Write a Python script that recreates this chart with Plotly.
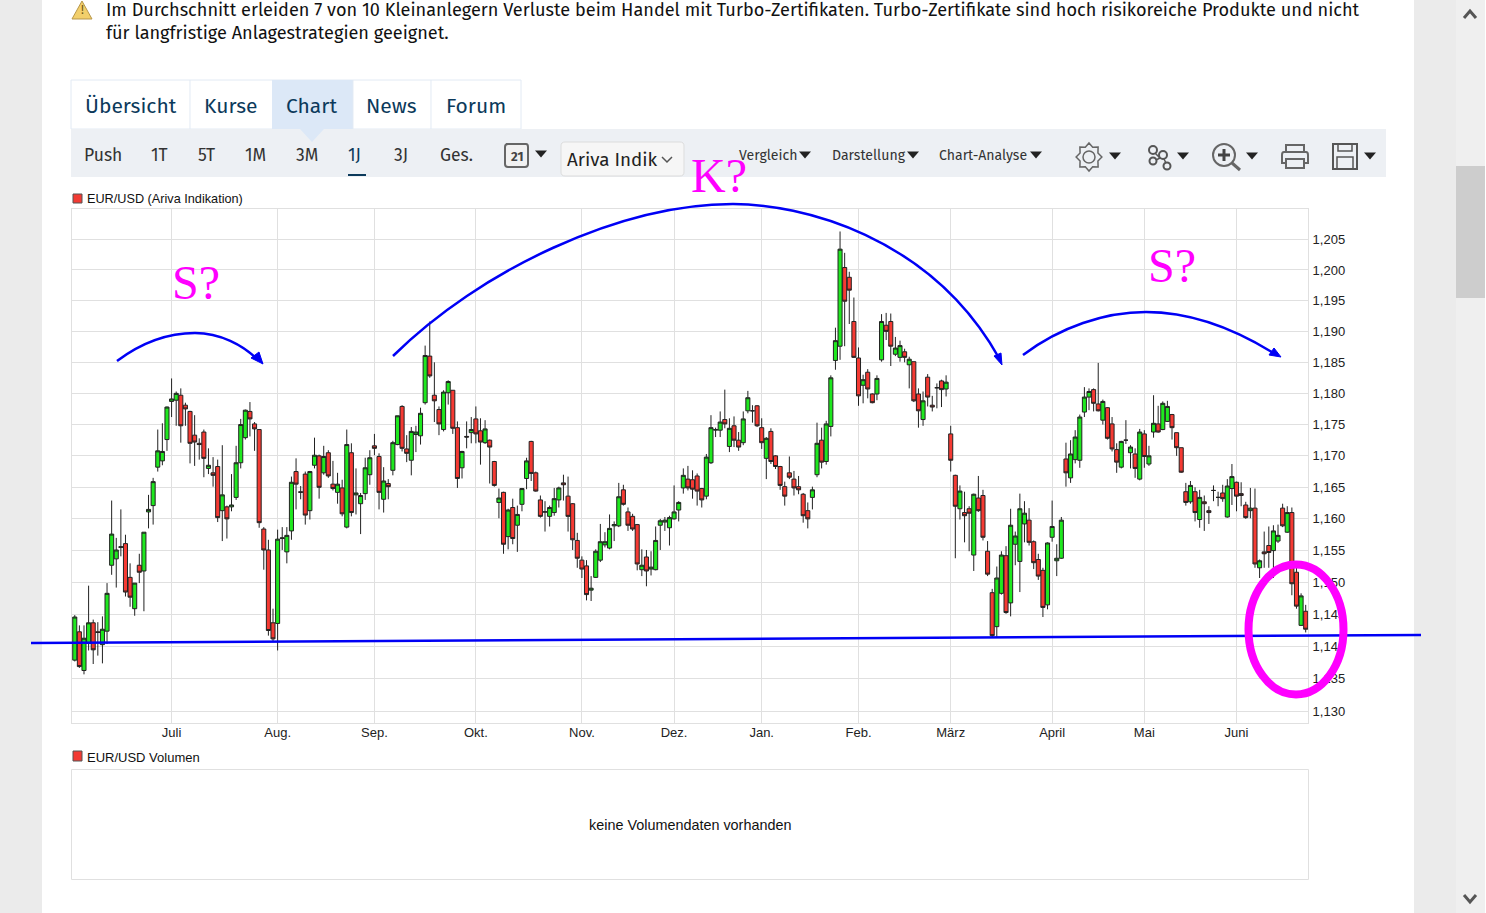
import math
import plotly.graph_objects as go

# Page size of the screenshot, everything outside the chart is placed in pixels
W = 1486
H = 913

highs = [
    1.1449, 1.1433, 1.1433, 1.1495, 1.1442, 1.1438, 1.1447, 1.1499, 1.1629, 1.1570,
    1.1615, 1.1575, 1.1530, 1.1499, 1.1545, 1.1579, 1.1638, 1.1665, 1.1742, 1.1752,
    1.1779, 1.1824, 1.1803, 1.1808, 1.1785, 1.1772, 1.1765, 1.1728, 1.1742, 1.1712,
    1.1698, 1.1694, 1.1717, 1.1621, 1.1671, 1.1716, 1.1759, 1.1774, 1.1786, 1.1754,
    1.1742, 1.1587, 1.1567, 1.1459, 1.1583, 1.1587, 1.1587, 1.1667, 1.1696, 1.1652,
    1.1675, 1.1676, 1.1729, 1.1702, 1.1716, 1.1709, 1.1692, 1.1673, 1.1662, 1.1742,
    1.1720, 1.1680, 1.1641, 1.1697, 1.1709, 1.1735, 1.1704, 1.1682, 1.1663, 1.1724,
    1.1764, 1.1781, 1.1733, 1.1746, 1.1748, 1.1777, 1.1877, 1.1916, 1.1850, 1.1779,
    1.1805, 1.1821, 1.1805, 1.1755, 1.1708, 1.1755, 1.1762, 1.1779, 1.1760, 1.1757,
    1.1726, 1.1692, 1.1648, 1.1643, 1.1616, 1.1632, 1.1621, 1.1649, 1.1697, 1.1724,
    1.1675, 1.1637, 1.1628, 1.1621, 1.1649, 1.1651, 1.1670, 1.1667, 1.1625, 1.1578,
    1.1541, 1.1535, 1.1510, 1.1552, 1.1592, 1.1579, 1.1607, 1.1596, 1.1657, 1.1654,
    1.1618, 1.1608, 1.1592, 1.1552, 1.1551, 1.1549, 1.1588, 1.1600, 1.1603, 1.1605,
    1.1653, 1.1628, 1.1680, 1.1684, 1.1677, 1.1672, 1.1649, 1.1703, 1.1765, 1.1745,
    1.1771, 1.1806, 1.1760, 1.1763, 1.1738, 1.1771, 1.1804, 1.1781, 1.1781, 1.1760,
    1.1730, 1.1744, 1.1701, 1.1684, 1.1659, 1.1699, 1.1676, 1.1668, 1.1641, 1.1626,
    1.1651, 1.1753, 1.1745, 1.1756, 1.1829, 1.1906, 1.2063, 1.2028, 1.1997, 1.1955,
    1.1874, 1.1830, 1.1839, 1.1800, 1.1829, 1.1928, 1.1930, 1.1929, 1.1891, 1.1885,
    1.1872, 1.1859, 1.1851, 1.1808, 1.1803, 1.1831, 1.1796, 1.1816, 1.1822, 1.1829,
    1.1748, 1.1670, 1.1653, 1.1643, 1.1620, 1.1640, 1.1668, 1.1646, 1.1565, 1.1490,
    1.1525, 1.1549, 1.1557, 1.1616, 1.1580, 1.1640, 1.1628, 1.1617, 1.1566, 1.1545,
    1.1523, 1.1563, 1.1629, 1.1560, 1.1603, 1.1721, 1.1725, 1.1741, 1.1766, 1.1810,
    1.1808, 1.1808, 1.1849, 1.1790, 1.1778, 1.1762, 1.1720, 1.1724, 1.1757, 1.1717,
    1.1712, 1.1743, 1.1741, 1.1716, 1.1797, 1.1780, 1.1787, 1.1788, 1.1767, 1.1737,
    1.1713, 1.1657, 1.1660, 1.1650, 1.1646, 1.1637, 1.1620, 1.1653, 1.1643, 1.1654,
    1.1663, 1.1687, 1.1659, 1.1658, 1.1627, 1.1649, 1.1648, 1.1536, 1.1580, 1.1588,
    1.1590, 1.1591, 1.1624, 1.1620, 1.1618, 1.1523, 1.1483, 1.1465,
]

opens = [
    1.1379, 1.1423, 1.1363, 1.1405, 1.1437, 1.1423, 1.1403, 1.1424, 1.1527, 1.1537,
    1.1555, 1.1561, 1.1508, 1.1459, 1.1527, 1.1518, 1.1611, 1.1621, 1.1682, 1.1692,
    1.1726, 1.1787, 1.1789, 1.1797, 1.1781, 1.1771, 1.1733, 1.1720, 1.1738, 1.1680,
    1.1673, 1.1683, 1.1613, 1.1619, 1.1619, 1.1634, 1.1689, 1.1729, 1.1771, 1.1751,
    1.1742, 1.1584, 1.1551, 1.1437, 1.1436, 1.1569, 1.1548, 1.1581, 1.1675, 1.1643,
    1.1671, 1.1613, 1.1685, 1.1700, 1.1673, 1.1705, 1.1655, 1.1642, 1.1649, 1.1587,
    1.1705, 1.1638, 1.1624, 1.1640, 1.1670, 1.1716, 1.1699, 1.1631, 1.1656, 1.1677,
    1.1718, 1.1779, 1.1711, 1.1693, 1.1734, 1.1732, 1.1785, 1.1860, 1.1797, 1.1774,
    1.1742, 1.1801, 1.1805, 1.1745, 1.1681, 1.1731, 1.1737, 1.1759, 1.1740, 1.1721,
    1.1725, 1.1691, 1.1626, 1.1642, 1.1572, 1.1618, 1.1590, 1.1623, 1.1664, 1.1723,
    1.1673, 1.1630, 1.1611, 1.1604, 1.1610, 1.1630, 1.1657, 1.1636, 1.1624, 1.1566,
    1.1535, 1.1526, 1.1488, 1.1508, 1.1535, 1.1559, 1.1554, 1.1589, 1.1589, 1.1646,
    1.1611, 1.1604, 1.1591, 1.1520, 1.1540, 1.1521, 1.1520, 1.1590, 1.1595, 1.1586,
    1.1600, 1.1614, 1.1649, 1.1663, 1.1662, 1.1668, 1.1648, 1.1636, 1.1689, 1.1741,
    1.1741, 1.1758, 1.1715, 1.1748, 1.1725, 1.1721, 1.1772, 1.1772, 1.1780, 1.1745,
    1.1696, 1.1739, 1.1700, 1.1683, 1.1651, 1.1673, 1.1663, 1.1651, 1.1639, 1.1613,
    1.1634, 1.1670, 1.1725, 1.1691, 1.1747, 1.1853, 1.1876, 1.2004, 1.1988, 1.1916,
    1.1857, 1.1813, 1.1834, 1.1799, 1.1799, 1.1854, 1.1910, 1.1916, 1.1863, 1.1858,
    1.1867, 1.1846, 1.1851, 1.1799, 1.1758, 1.1826, 1.1781, 1.1809, 1.1820, 1.1807,
    1.1735, 1.1669, 1.1616, 1.1610, 1.1616, 1.1543, 1.1633, 1.1637, 1.1549, 1.1484,
    1.1431, 1.1483, 1.1542, 1.1468, 1.1560, 1.1533, 1.1592, 1.1598, 1.1564, 1.1536,
    1.1519, 1.1465, 1.1571, 1.1534, 1.1538, 1.1695, 1.1665, 1.1694, 1.1693, 1.1770,
    1.1794, 1.1806, 1.1783, 1.1757, 1.1777, 1.1751, 1.1710, 1.1682, 1.1725, 1.1705,
    1.1703, 1.1663, 1.1735, 1.1687, 1.1738, 1.1751, 1.1742, 1.1755, 1.1766, 1.1737,
    1.1713, 1.1643, 1.1627, 1.1643, 1.1599, 1.1627, 1.1613, 1.1645, 1.1634, 1.1641,
    1.1603, 1.1648, 1.1658, 1.1640, 1.1622, 1.1613, 1.1617, 1.1523, 1.1548, 1.1558,
    1.1550, 1.1565, 1.1617, 1.1579, 1.1610, 1.1516, 1.1433, 1.1455,
]

closes = [
    1.1446, 1.1369, 1.1413, 1.1437, 1.1395, 1.1422, 1.1427, 1.1483, 1.1576, 1.1551,
    1.1556, 1.1485, 1.1477, 1.1499, 1.1516, 1.1579, 1.1615, 1.1659, 1.1708, 1.1707,
    1.1778, 1.1791, 1.1800, 1.1748, 1.1775, 1.1720, 1.1722, 1.1718, 1.1696, 1.1685,
    1.1669, 1.1602, 1.1638, 1.1600, 1.1622, 1.1689, 1.1750, 1.1773, 1.1759, 1.1743,
    1.1594, 1.1551, 1.1425, 1.1412, 1.1568, 1.1570, 1.1574, 1.1658, 1.1655, 1.1642,
    1.1606, 1.1675, 1.1701, 1.1650, 1.1699, 1.1668, 1.1648, 1.1655, 1.1608, 1.1718,
    1.1610, 1.1641, 1.1637, 1.1681, 1.1697, 1.1712, 1.1642, 1.1660, 1.1651, 1.1721,
    1.1764, 1.1712, 1.1704, 1.1739, 1.1738, 1.1768, 1.1861, 1.1828, 1.1788, 1.1751,
    1.1802, 1.1819, 1.1744, 1.1664, 1.1707, 1.1730, 1.1742, 1.1735, 1.1722, 1.1743,
    1.1714, 1.1653, 1.1633, 1.1560, 1.1614, 1.1569, 1.1607, 1.1648, 1.1692, 1.1672,
    1.1644, 1.1604, 1.1611, 1.1618, 1.1632, 1.1649, 1.1654, 1.1604, 1.1567, 1.1538,
    1.1521, 1.1481, 1.1491, 1.1549, 1.1564, 1.1564, 1.1585, 1.1591, 1.1635, 1.1623,
    1.1590, 1.1584, 1.1529, 1.1527, 1.1518, 1.1524, 1.1566, 1.1597, 1.1598, 1.1602,
    1.1611, 1.1626, 1.1669, 1.1649, 1.1647, 1.1644, 1.1630, 1.1698, 1.1745, 1.1742,
    1.1754, 1.1751, 1.1744, 1.1725, 1.1714, 1.1759, 1.1793, 1.1772, 1.1748, 1.1721,
    1.1728, 1.1691, 1.1683, 1.1653, 1.1636, 1.1666, 1.1649, 1.1646, 1.1605, 1.1600,
    1.1646, 1.1720, 1.1690, 1.1751, 1.1825, 1.1885, 1.2034, 1.1949, 1.1967, 1.1858,
    1.1796, 1.1822, 1.1807, 1.1785, 1.1824, 1.1916, 1.1900, 1.1876, 1.1873, 1.1877,
    1.1858, 1.1855, 1.1788, 1.1772, 1.1788, 1.1794, 1.1778, 1.1809, 1.1806, 1.1818,
    1.1693, 1.1620, 1.1644, 1.1605, 1.1609, 1.1639, 1.1613, 1.1571, 1.1513, 1.1417,
    1.1507, 1.1543, 1.1453, 1.1590, 1.1573, 1.1616, 1.1609, 1.1563, 1.1531, 1.1510,
    1.1461, 1.1562, 1.1588, 1.1538, 1.1598, 1.1673, 1.1703, 1.1730, 1.1762, 1.1794,
    1.1803, 1.1784, 1.1772, 1.1787, 1.1728, 1.1711, 1.1690, 1.1723, 1.1725, 1.1714,
    1.1680, 1.1738, 1.1699, 1.1700, 1.1752, 1.1738, 1.1784, 1.1779, 1.1745, 1.1713,
    1.1674, 1.1626, 1.1653, 1.1610, 1.1634, 1.1624, 1.1610, 1.1645, 1.1634, 1.1632,
    1.1652, 1.1667, 1.1636, 1.1637, 1.1602, 1.1617, 1.1529, 1.1534, 1.1545, 1.1547,
    1.1581, 1.1574, 1.1589, 1.1610, 1.1498, 1.1463, 1.1479, 1.1427,
]

lows = [
    1.1377, 1.1367, 1.1357, 1.1394, 1.1373, 1.1386, 1.1374, 1.1404, 1.1512, 1.1492,
    1.1541, 1.1478, 1.1462, 1.1448, 1.1499, 1.1455, 1.1585, 1.1591, 1.1675, 1.1685,
    1.1708, 1.1762, 1.1748, 1.1721, 1.1748, 1.1688, 1.1684, 1.1694, 1.1666, 1.1671,
    1.1651, 1.1595, 1.1565, 1.1569, 1.1612, 1.1630, 1.1680, 1.1726, 1.1731, 1.1708,
    1.1586, 1.1520, 1.1417, 1.1407, 1.1394, 1.1551, 1.1530, 1.1567, 1.1615, 1.1631,
    1.1591, 1.1599, 1.1680, 1.1632, 1.1670, 1.1665, 1.1645, 1.1624, 1.1604, 1.1585,
    1.1604, 1.1607, 1.1576, 1.1630, 1.1654, 1.1701, 1.1615, 1.1610, 1.1631, 1.1669,
    1.1717, 1.1707, 1.1690, 1.1669, 1.1706, 1.1718, 1.1782, 1.1825, 1.1754, 1.1733,
    1.1739, 1.1782, 1.1735, 1.1649, 1.1664, 1.1712, 1.1720, 1.1720, 1.1686, 1.1719,
    1.1656, 1.1651, 1.1601, 1.1545, 1.1552, 1.1560, 1.1548, 1.1612, 1.1647, 1.1660,
    1.1643, 1.1602, 1.1580, 1.1588, 1.1605, 1.1618, 1.1629, 1.1580, 1.1551, 1.1523,
    1.1507, 1.1472, 1.1471, 1.1507, 1.1532, 1.1555, 1.1552, 1.1565, 1.1587, 1.1621,
    1.1581, 1.1581, 1.1519, 1.1510, 1.1494, 1.1511, 1.1519, 1.1551, 1.1581, 1.1558,
    1.1599, 1.1596, 1.1640, 1.1645, 1.1632, 1.1621, 1.1618, 1.1631, 1.1687, 1.1730,
    1.1730, 1.1744, 1.1706, 1.1714, 1.1708, 1.1717, 1.1768, 1.1753, 1.1746, 1.1711,
    1.1663, 1.1687, 1.1679, 1.1646, 1.1621, 1.1663, 1.1637, 1.1639, 1.1594, 1.1585,
    1.1615, 1.1666, 1.1680, 1.1686, 1.1731, 1.1838, 1.1854, 1.1876, 1.1912, 1.1857,
    1.1780, 1.1784, 1.1792, 1.1784, 1.1789, 1.1851, 1.1886, 1.1844, 1.1860, 1.1851,
    1.1850, 1.1808, 1.1786, 1.1745, 1.1748, 1.1779, 1.1771, 1.1776, 1.1778, 1.1795,
    1.1675, 1.1538, 1.1599, 1.1563, 1.1549, 1.1518, 1.1611, 1.1566, 1.1510, 1.1414,
    1.1415, 1.1481, 1.1451, 1.1447, 1.1527, 1.1485, 1.1563, 1.1558, 1.1521, 1.1504,
    1.1446, 1.1458, 1.1564, 1.1510, 1.1537, 1.1651, 1.1657, 1.1688, 1.1681, 1.1762,
    1.1773, 1.1771, 1.1771, 1.1750, 1.1726, 1.1707, 1.1673, 1.1680, 1.1719, 1.1680,
    1.1665, 1.1661, 1.1681, 1.1684, 1.1729, 1.1737, 1.1741, 1.1754, 1.1726, 1.1700,
    1.1673, 1.1621, 1.1624, 1.1596, 1.1586, 1.1581, 1.1592, 1.1628, 1.1620, 1.1627,
    1.1602, 1.1622, 1.1612, 1.1620, 1.1600, 1.1601, 1.1523, 1.1507, 1.1523, 1.1523,
    1.1507, 1.1562, 1.1587, 1.1578, 1.1480, 1.1459, 1.1432, 1.1422,
]

days = list(range(1, len(closes) + 1))

month_labels = ["Juli", "Aug.", "Sep.", "Okt.", "Nov.", "Dez.", "Jan.", "Feb.", "März", "April", "Mai", "Juni"]
month_days = [22, 45, 66, 88, 111, 131, 150, 171, 191, 213, 233, 253]

price_ticks = [1.130, 1.135, 1.140, 1.145, 1.150, 1.155, 1.160, 1.165, 1.170, 1.175, 1.180, 1.185, 1.190, 1.195, 1.200, 1.205]
price_labels = ["1,130", "1,135", "1,140", "1,145", "1,150", "1,155", "1,160", "1,165", "1,170", "1,175", "1,180", "1,185", "1,190", "1,195", "1,200", "1,205"]

period_labels = ["Push", "1T", "5T", "1M", "3M", "1J", "3J", "Ges."]
period_x = [84, 151, 198, 245, 296, 348, 394, 440]
tab_labels = ["Übersicht", "Kurse", "Chart", "News", "Forum"]
tab_x = [85, 204, 286, 366, 446]

UI_FONT = "Fira Sans, Noto Sans, sans-serif"
CHART_FONT = "Liberation Sans, Arial, sans-serif"
SERIF_FONT = "Liberation Serif, Times New Roman, serif"
BLUE = "#0000f5"
MAGENTA = "#ff00ff"
GRID = "#e0e0e0"

shapes = []
notes = []


def fx(x):
    return x / W


def fy(y):
    return 1 - y / H


def rect(x0, y0, x1, y1, fill, line=None, layer="below"):
    shapes.append(dict(type="rect", xref="paper", yref="paper", x0=fx(x0), x1=fx(x1), y0=fy(y0), y1=fy(y1),
                       fillcolor=fill, line=dict(color=line or fill, width=1 if line else 0), layer=layer))


# pts is a list of (command, x, y, x, y, ...) in page pixels
def path(pts, color=None, width=1, fill=None, layer="above"):
    parts = []
    for p in pts:
        if len(p) == 1:
            parts.append(p[0])
            continue
        coords = []
        for i in range(1, len(p), 2):
            coords.append("%.5f,%.5f" % (fx(p[i]), fy(p[i + 1])))
        parts.append(p[0] + " ".join(coords))
    shapes.append(dict(type="path", xref="paper", yref="paper", path=" ".join(parts), fillcolor=fill,
                       line=dict(color=color or "rgba(0,0,0,0)", width=width), layer=layer))


def ring(cx, cy, rx, ry, color, width, fill=None, layer="above"):
    shapes.append(dict(type="circle", xref="paper", yref="paper", x0=fx(cx - rx), x1=fx(cx + rx),
                       y0=fy(cy + ry), y1=fy(cy - ry), fillcolor=fill, line=dict(color=color, width=width), layer=layer))


# annotations carry about 2px of padding, take it off left aligned text
def label(x, y, text, size, color="#222222", font=UI_FONT, anchor="left"):
    if anchor == "left":
        x = x - 2
    notes.append(dict(xref="paper", yref="paper", x=fx(x), y=fy(y), text=text, showarrow=False, xanchor=anchor,
                      yanchor="middle", font=dict(size=size, color=color, family=font)))


def caret(cx, cy, w=12, h=7):
    path([("M", cx - w / 2, cy - h / 2), ("L", cx + w / 2, cy - h / 2), ("L", cx, cy + h / 2), ("Z",)], fill="#222222")


# page background
rect(42, 0, 1414, H, "#ffffff")
rect(1456, 0, 1485, H, "#efefef")
rect(1456, 166, 1485, 298, "#cdcdcd")
rect(1485, 0, W, H, "#ffffff")
path([("M", 1464, 18), ("L", 1470, 11), ("L", 1476, 18)], color="#555555", width=3)
path([("M", 1464, 895), ("L", 1470, 902), ("L", 1476, 895)], color="#555555", width=3)

# warning line
path([("M", 82, 1), ("L", 92, 19), ("L", 72, 19), ("Z",)], color="#b8974a", width=1, fill="#f2cf6b")
label(82, 10, "!", 12, "#6b5414", anchor="center")
label(106, 10, "Im Durchschnitt erleiden 7 von 10 Kleinanlegern Verluste beim Handel mit Turbo-Zertifikaten. Turbo-Zertifikate sind hoch risikoreiche Produkte und nicht", 18.14, "#111111")
label(106, 33, "für langfristige Anlagestrategien geeignet.", 18.14, "#111111")

# tabs and toolbar
rect(71, 80, 521, 129, "#ffffff", "#e2eaf4")
rect(272, 80, 353, 129, "#dce8f7")
for x in [190, 431, 353]:
    path([("M", x, 80), ("L", x, 129)], color="#e2eaf4")
rect(71, 129, 1386, 177, "#edf0f4")
path([("M", 300, 129), ("L", 324, 129), ("L", 312, 142), ("Z",)], fill="#dce8f7", layer="below")
for name, x in zip(tab_labels, tab_x):
    label(x, 106, name, 21, "#0c3a5b")
for name, x in zip(period_labels, period_x):
    label(x, 155, name, 17.5, "#0c3a5b" if name == "1J" else "#333333")
rect(348, 174, 366, 176, "#0c3a5b")

# calendar
path([("M", 506, 144), ("L", 526, 144), ("Q", 528, 144, 528, 147), ("L", 528, 164), ("Q", 528, 167, 525, 167),
      ("L", 508, 167), ("Q", 505, 167, 505, 164), ("L", 505, 147), ("Q", 505, 144, 508, 144), ("Z",)],
     color="#666666", width=2, fill="#f1f1f1")
label(516.5, 157, "<b>21</b>", 13, "#444444", anchor="center")
caret(541, 154)

# source dropdown
path([("M", 565, 142), ("L", 680, 142), ("Q", 684, 142, 684, 146), ("L", 684, 172), ("Q", 684, 176, 680, 176),
      ("L", 565, 176), ("Q", 561, 176, 561, 172), ("L", 561, 146), ("Q", 561, 142, 565, 142), ("Z",)],
     color="#dddddd", width=1, fill="#f6f6f6")
label(567, 160, "Ariva Indik", 18.8, "#222222")
path([("M", 662, 157), ("L", 667, 162), ("L", 672, 157)], color="#555555", width=1.5)

label(739, 156, "Vergleich", 14.1, "#333333")
caret(805, 155)
label(832, 156, "Darstellung", 14.1, "#333333")
caret(913, 155)
label(939, 156, "Chart-Analyse", 14.1, "#333333")
caret(1036, 155)

# gear
gear = []
for i in range(16):
    a = math.pi * 2 * i / 16
    r = 14 if i % 2 == 0 else 10.5
    gear.append(("M" if i == 0 else "L", 1089 + r * math.sin(a) * 0.92, 157 - r * math.cos(a)))
path(gear + [("Z",)], color="#666666", width=1.5)
ring(1089, 157, 6, 6, "#666666", 1.5)
caret(1115, 156)

# share nodes
ring(1153, 150, 4, 4, "#555555", 2)
ring(1163, 155, 4, 4, "#555555", 2)
ring(1153, 161, 3.5, 3.5, "#555555", 2)
ring(1167, 166, 3.5, 3.5, "#555555", 2)
path([("M", 1155, 153), ("L", 1160, 158)], color="#555555", width=1.5)
path([("M", 1156, 160), ("L", 1160, 158)], color="#555555", width=1.5)
path([("M", 1164, 159), ("L", 1166, 163)], color="#555555", width=1.5)
caret(1183, 156)

# zoom glass
ring(1224, 155, 11, 11, "#666666", 2)
path([("M", 1232, 163), ("L", 1240, 170)], color="#666666", width=3)
path([("M", 1218, 155), ("L", 1230, 155)], color="#444444", width=3)
path([("M", 1224, 149), ("L", 1224, 161)], color="#444444", width=3)
caret(1252, 156)

# printer
path([("M", 1286, 152), ("L", 1286, 145), ("L", 1304, 145), ("L", 1304, 152)], color="#666666", width=2)
path([("M", 1284, 152), ("L", 1306, 152), ("Q", 1308, 152, 1308, 155), ("L", 1308, 163), ("L", 1303, 163),
      ("M", 1287, 163), ("L", 1282, 163), ("L", 1282, 155), ("Q", 1282, 152, 1284, 152)], color="#666666", width=2)
path([("M", 1286, 159), ("L", 1304, 159), ("L", 1304, 168), ("L", 1286, 168), ("Z",)], color="#666666", width=2)

# floppy
path([("M", 1333, 144), ("L", 1357, 144), ("L", 1357, 169), ("L", 1333, 169), ("Z",)], color="#555555", width=2)
path([("M", 1338, 144), ("L", 1338, 151), ("L", 1352, 151), ("L", 1352, 144)], color="#555555", width=1.5)
path([("M", 1337, 169), ("L", 1337, 157), ("L", 1353, 157), ("L", 1353, 169)], color="#555555", width=1.5)
caret(1370, 156)

# chart titles and volume panel
rect(73, 194, 82, 203, "#f23a33", "#555555")
label(87, 199, "EUR/USD (Ariva Indikation)", 12.7, "#111111", CHART_FONT)
rect(73, 751, 82, 761, "#f23a33", "#555555")
label(87, 757, "EUR/USD Volumen", 13, "#111111", CHART_FONT)
rect(71.5, 769.5, 1308.5, 879.5, "#ffffff", GRID)
label(690, 825, "keine Volumendaten vorhanden", 14.4, "#111111", CHART_FONT, anchor="center")

# hand drawn notes on top of the chart
path([("M", 31, 643), ("L", 1421, 635)], color=BLUE, width=2.5)
path([("M", 117, 361), ("C", 145, 340, 170, 333, 195, 333), ("C", 220, 333, 243, 345, 258, 360)], color=BLUE, width=2.5)
path([("M", 263, 364), ("L", 251, 358), ("L", 259, 352), ("Z",)], color=BLUE, fill=BLUE)
path([("M", 393, 356), ("C", 480, 270, 620, 204, 733, 204), ("C", 800, 204, 930, 235, 999, 358)], color=BLUE, width=2.5)
path([("M", 1002, 365), ("L", 994, 356), ("L", 1001, 353), ("Z",)], color=BLUE, fill=BLUE)
path([("M", 1023, 355), ("C", 1060, 327, 1105, 312, 1146, 312), ("C", 1195, 312, 1240, 332, 1275, 354)], color=BLUE, width=2.5)
path([("M", 1281, 357), ("L", 1269, 355), ("L", 1274, 348), ("Z",)], color=BLUE, fill=BLUE)
ring(1296, 629.5, 47.5, 65, MAGENTA, 8)
label(196, 282, "S?", 48, MAGENTA, SERIF_FONT, anchor="center")
label(719, 176, "K?", 48, MAGENTA, SERIF_FONT, anchor="center")
label(1172, 265, "S?", 48, MAGENTA, SERIF_FONT, anchor="center")

fig = go.Figure(go.Candlestick(
    x=days, open=opens, high=highs, low=lows, close=closes,
    whiskerwidth=0,
    increasing=dict(fillcolor="#1fe81f", line=dict(color="#222222", width=1)),
    decreasing=dict(fillcolor="#f53a33", line=dict(color="#222222", width=1)),
    showlegend=False,
))

fig.update_layout(
    width=W, height=H, autosize=False,
    margin=dict(l=0, r=0, t=0, b=0),
    paper_bgcolor="#ebebeb", plot_bgcolor="rgba(0,0,0,0)",
    boxgap=0.12, boxgroupgap=0,
    shapes=shapes, annotations=notes,
    font=dict(family=CHART_FONT, size=13, color="#222222"),
    xaxis=dict(domain=[72 / W, 1308 / W], range=[0.4, 268.5], rangeslider=dict(visible=False),
               tickmode="array", tickvals=month_days, ticktext=month_labels, ticks="",
               showgrid=True, gridcolor=GRID, gridwidth=1, zeroline=False,
               showline=True, linecolor=GRID, mirror=True, ticklabelstandoff=-3),
    yaxis=dict(domain=[1 - 723 / H, 1 - 209 / H], type="log", range=[math.log10(1.1282), math.log10(1.21)],
               side="right", tickmode="array", tickvals=price_ticks, ticktext=price_labels, ticks="",
               showgrid=True, gridcolor=GRID, gridwidth=1, zeroline=False,
               showline=True, linecolor=GRID, mirror=True, ticklabelstandoff=1),
)

fig.write_html("out.html", config={"displayModeBar": False},
               post_script="document.body.style.margin='0';document.body.style.overflow='hidden';")
